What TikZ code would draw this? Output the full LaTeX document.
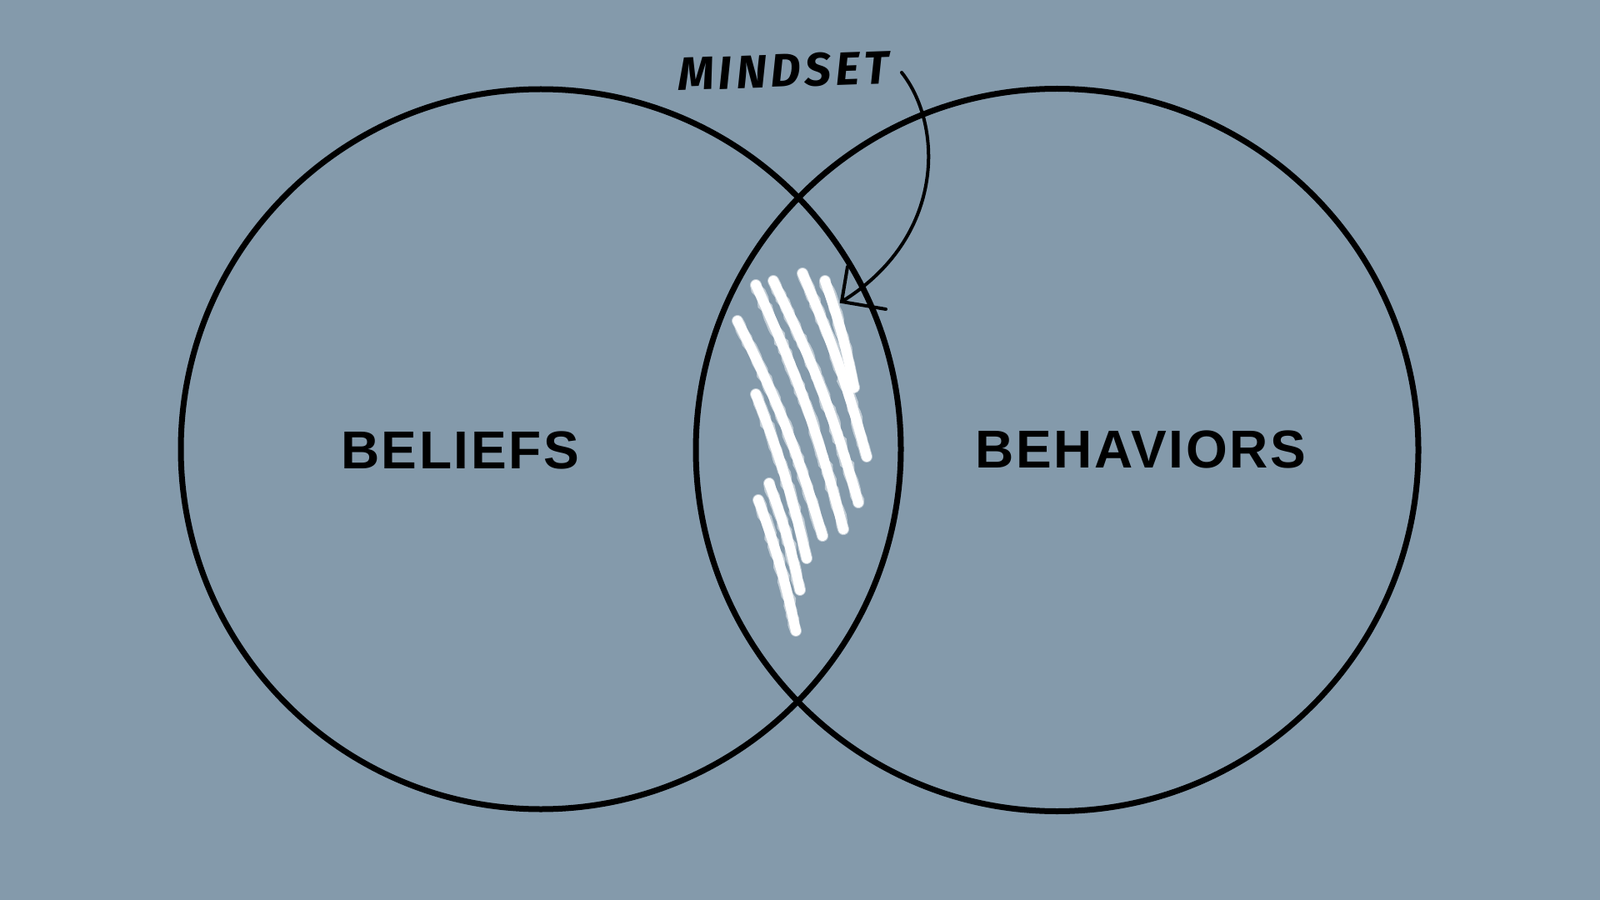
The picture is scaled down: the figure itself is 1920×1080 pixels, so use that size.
\documentclass[tikz,border=0pt]{standalone}
\usepackage{fontspec}
\usetikzlibrary{decorations.pathmorphing}
\newfontfamily\labelfont[LetterSpace=4]{Liberation Sans}
\newfontfamily\handfont[LetterSpace=9]{Fira Sans}
\definecolor{bgblue}{HTML}{849AAB}
\tikzset{
  ring/.style={circle, draw=black, line width=3.5pt, inner sep=0pt},
  biglabel/.style={inner sep=0pt, font=\labelfont\bfseries\fontsize{32}{38}\selectfont, text=black},
  handlabel/.style={inner sep=0pt, font=\handfont\bfseries\itshape\fontsize{28}{32}\selectfont},
  pointer/.style={draw=black, line width=2pt, line cap=round, line join=miter},
  chalk/.style={draw=white, line width=6pt, line cap=round},
  chalkedge/.style={draw=white, line width=7pt, line cap=round, opacity=0.5,
    decorate, decoration={random steps, segment length=3pt, amplitude=0.7pt}},
}
\begin{document}
\begin{tikzpicture}[x=0.5pt, y=-0.5pt]
  \fill[bgblue] (0,0) rectangle (1920,1080);
  \useasboundingbox (0,0) rectangle (1920,1080);

  % circles
  \node[ring, minimum size=432pt] (left) at (649,539) {};
  \node[ring, minimum size=433.5pt] (right) at (1268.5,540) {};

  % labels
  \node[biglabel] (beliefs) at (552,540) {BELIEFS};
  \node[biglabel] (behaviors) at (1369,539) {BEHAVIORS};
  \node[handlabel, rotate=2] (mindset) at (940,85) {MINDSET};

  % scribble
  \foreach \ax/\ay/\bx/\by/\c in {
      990/337/1025/465/4,
      963/328/1040/548/4,
      928/337/1030/603/5,
      907/342/1012/635/5,
      885/385/987/643/5,
      907/473/968/670/4,
      923/580/960/708/4,
      910/600/955/757/4} {
    \draw[chalkedge] (\ax,\ay) to[bend left=\c] (\bx,\by);
    \draw[chalk] (\ax,\ay) to[bend left=\c] (\bx,\by);
  }

  % pointer arrow
  \coordinate (start) at (1082,87);
  \coordinate (tip) at (1010,362);
  \coordinate (barbA) at (1017,320);
  \coordinate (barbB) at (1063,371);
  \draw[pointer] (start) .. controls (1132,150) and (1135,285) .. (tip);
  \draw[pointer] (barbA) -- (tip) -- (barbB);
\end{tikzpicture}
\end{document}
